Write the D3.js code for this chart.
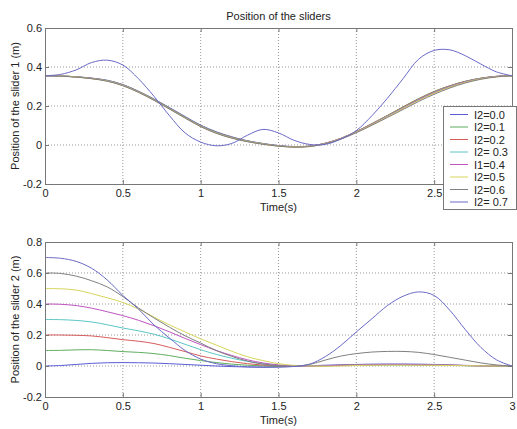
<!DOCTYPE html>
<html>
<head>
<meta charset="utf-8">
<script src="https://cdn.jsdelivr.net/npm/d3@7"></script>
<style>
  body { margin: 0; background: #fff; }
  text { font-family: "Liberation Sans", Arial, sans-serif; }
</style>
</head>
<body>
<div id="my_dataviz"></div>
<script>
// time samples (s)
var times = [0,0.1,0.2,0.3,0.4,0.5,0.6,0.7,0.8,0.9,1.0,1.1,1.2,1.3,1.4,1.5,1.6,1.7,1.8,1.9,2.0,2.1,2.2,2.3,2.4,2.5,2.6,2.7,2.8,2.9,3.0];

var seriesNames = ["I2=0.0","I2=0.1","I2=0.2","I2= 0.3","I1=0.4","I2=0.5","I2=0.6","I2= 0.7"];
var seriesColors = ["#5c5cd6","#5fae5f","#d65c5c","#5cc6c6","#bf55bf","#d6d65c","#808080","#6a6ac8"];

// slider 1 position (m)
var s1_00 = [0.355,0.354,0.350,0.343,0.332,0.310,0.276,0.236,0.192,0.146,0.102,0.068,0.042,0.022,0.008,-0.003,-0.008,-0.006,0.008,0.033,0.068,0.108,0.150,0.193,0.235,0.272,0.302,0.326,0.342,0.352,0.355];
var s1_01 = [0.355,0.354,0.350,0.342,0.331,0.309,0.275,0.235,0.190,0.144,0.100,0.066,0.040,0.021,0.007,-0.004,-0.009,-0.006,0.009,0.034,0.069,0.110,0.152,0.196,0.238,0.275,0.304,0.327,0.343,0.352,0.355];
var s1_02 = [0.355,0.354,0.349,0.342,0.330,0.308,0.274,0.233,0.188,0.142,0.098,0.064,0.039,0.020,0.006,-0.004,-0.009,-0.006,0.009,0.034,0.069,0.109,0.151,0.194,0.236,0.273,0.303,0.326,0.342,0.352,0.355];
var s1_03 = [0.355,0.354,0.349,0.341,0.330,0.307,0.273,0.232,0.187,0.141,0.097,0.063,0.038,0.019,0.006,-0.005,-0.009,-0.007,0.008,0.032,0.067,0.107,0.149,0.191,0.233,0.270,0.300,0.324,0.341,0.351,0.355];
var s1_04 = [0.355,0.354,0.349,0.341,0.329,0.306,0.272,0.231,0.186,0.140,0.096,0.062,0.037,0.018,0.005,-0.005,-0.010,-0.007,0.008,0.032,0.066,0.106,0.147,0.189,0.231,0.268,0.298,0.323,0.340,0.351,0.355];
var s1_05 = [0.355,0.354,0.349,0.340,0.328,0.305,0.271,0.230,0.185,0.139,0.095,0.061,0.036,0.018,0.005,-0.006,-0.010,-0.008,0.007,0.031,0.065,0.104,0.145,0.187,0.228,0.265,0.296,0.321,0.339,0.350,0.355];
var s1_06 = [0.355,0.353,0.348,0.340,0.327,0.304,0.270,0.229,0.184,0.138,0.094,0.060,0.035,0.017,0.004,-0.006,-0.011,-0.008,0.006,0.030,0.063,0.101,0.141,0.182,0.223,0.260,0.292,0.318,0.337,0.349,0.355];
var s1_07 = [0.355,0.362,0.385,0.423,0.435,0.410,0.340,0.250,0.150,0.062,0.015,-0.004,0.008,0.050,0.080,0.062,0.024,0.003,0.003,0.030,0.074,0.150,0.240,0.340,0.440,0.485,0.488,0.458,0.415,0.375,0.355];

// slider 2 position (m)
var s2_00 = [0.000,0.003,0.010,0.017,0.021,0.022,0.021,0.019,0.015,0.010,0.005,0.000,-0.004,-0.006,-0.006,-0.004,-0.001,0.002,0.005,0.008,0.010,0.012,0.013,0.013,0.012,0.010,0.007,0.004,0.002,0.001,0.000];
var s2_01 = [0.100,0.101,0.104,0.105,0.100,0.093,0.088,0.080,0.067,0.050,0.035,0.022,0.012,0.005,0.001,-0.002,-0.003,-0.001,0.002,0.004,0.006,0.007,0.008,0.008,0.007,0.006,0.004,0.003,0.001,0.000,0.000];
var s2_02 = [0.200,0.200,0.198,0.194,0.183,0.170,0.160,0.145,0.120,0.093,0.065,0.045,0.028,0.015,0.006,0.001,-0.002,-0.001,0.002,0.005,0.007,0.009,0.010,0.010,0.009,0.007,0.005,0.003,0.001,0.000,0.000];
var s2_03 = [0.300,0.299,0.294,0.284,0.266,0.245,0.227,0.205,0.175,0.140,0.105,0.075,0.050,0.030,0.014,0.004,-0.001,0.000,0.002,0.004,0.006,0.007,0.008,0.008,0.007,0.006,0.004,0.002,0.001,0.000,0.000];
var s2_04 = [0.400,0.398,0.390,0.373,0.350,0.325,0.295,0.260,0.220,0.178,0.138,0.100,0.068,0.040,0.020,0.007,0.000,-0.001,0.001,0.004,0.006,0.008,0.009,0.009,0.008,0.006,0.005,0.003,0.001,0.000,0.000];
var s2_05 = [0.500,0.498,0.490,0.467,0.440,0.410,0.368,0.316,0.265,0.220,0.175,0.135,0.095,0.060,0.035,0.015,0.004,0.000,-0.002,0.000,0.003,0.005,0.006,0.006,0.005,0.004,0.003,0.002,0.001,0.000,0.000];
var s2_06 = [0.600,0.597,0.580,0.550,0.510,0.448,0.375,0.310,0.250,0.195,0.148,0.100,0.062,0.032,0.012,0.002,-0.002,0.010,0.038,0.064,0.080,0.090,0.094,0.094,0.088,0.074,0.056,0.038,0.020,0.007,0.000];
var s2_07 = [0.700,0.695,0.675,0.630,0.555,0.455,0.368,0.265,0.180,0.100,0.045,0.015,0.002,-0.006,-0.009,-0.008,-0.003,0.012,0.060,0.132,0.220,0.305,0.390,0.450,0.478,0.455,0.360,0.235,0.120,0.040,0.000];

var slider1 = [s1_00,s1_01,s1_02,s1_03,s1_04,s1_05,s1_06,s1_07];
var slider2 = [s2_00,s2_01,s2_02,s2_03,s2_04,s2_05,s2_06,s2_07];

var xTicks = [0,0.5,1,1.5,2,2.5,3];
var xTickLabels = ["0","0.5","1","1.5","2","2.5","3"];
var yTicks1 = [-0.2,0,0.2,0.4,0.6];
var yTickLabels1 = ["-0.2","0","0.2","0.4","0.6"];
var yTicks2 = [-0.2,0,0.2,0.4,0.6,0.8];
var yTickLabels2 = ["-0.2","0","0.2","0.4","0.6","0.8"];

var W = 517, H = 429;
var left = 45, right = 512;

var svg = d3.select("#my_dataviz")
  .append("svg")
  .attr("width", W)
  .attr("height", H);

svg.append("rect").attr("width", W).attr("height", H).attr("fill", "#fff");

function drawPanel(top, bottom, yDomain, yTicks, yLabels, data, ylabel) {
  var x = d3.scaleLinear().domain([0, 3]).range([left, right]);
  var y = d3.scaleLinear().domain(yDomain).range([bottom, top]);

  var g = svg.append("g");

  // grid
  g.append("g")
    .selectAll("line.gx")
    .data(xTicks.slice(1, -1))
    .enter().append("line")
    .attr("x1", function(d) { return x(d); })
    .attr("x2", function(d) { return x(d); })
    .attr("y1", top).attr("y2", bottom)
    .attr("stroke", "#999").attr("stroke-dasharray", "1,2");
  g.append("g")
    .selectAll("line.gy")
    .data(yTicks.slice(1, -1))
    .enter().append("line")
    .attr("x1", left).attr("x2", right)
    .attr("y1", function(d) { return y(d); })
    .attr("y2", function(d) { return y(d); })
    .attr("stroke", "#999").attr("stroke-dasharray", "1,2");

  // curves
  var line = d3.line()
    .x(function(d, i) { return x(times[i]); })
    .y(function(d) { return y(d); })
    .curve(d3.curveCatmullRom.alpha(0.5));

  g.selectAll("path.series")
    .data(data)
    .enter().append("path")
    .attr("d", line)
    .attr("fill", "none")
    .attr("stroke", function(d, i) { return seriesColors[i]; })
    .attr("stroke-width", 1);

  // axes with inward ticks
  g.append("g")
    .attr("transform", "translate(0," + bottom + ")")
    .call(d3.axisBottom(x).tickValues(xTicks).tickSize(-4).tickPadding(5)
      .tickFormat(function(d, i) { return xTickLabels[i]; }));
  g.append("g")
    .attr("transform", "translate(0," + top + ")")
    .call(d3.axisTop(x).tickValues(xTicks).tickSize(-4).tickFormat(""));
  g.append("g")
    .attr("transform", "translate(" + left + ",0)")
    .call(d3.axisLeft(y).tickValues(yTicks).tickSize(-4).tickPadding(3)
      .tickFormat(function(d, i) { return yLabels[i]; }));
  g.append("g")
    .attr("transform", "translate(" + right + ",0)")
    .call(d3.axisRight(y).tickValues(yTicks).tickSize(-4).tickFormat(""));

  g.selectAll(".domain").attr("stroke", "#777");
  g.selectAll(".tick line").attr("stroke", "#777");
  g.selectAll(".tick text")
    .style("font-size", "11px")
    .attr("fill", "#222");

  g.append("text")
    .attr("x", (left + right) / 2)
    .attr("y", bottom + 27)
    .attr("text-anchor", "middle")
    .style("font-size", "11px")
    .attr("fill", "#222")
    .text("Time(s)");

  g.append("text")
    .attr("transform", "translate(19," + ((top + bottom) / 2) + ") rotate(-90)")
    .attr("text-anchor", "middle")
    .style("font-size", "11px")
    .attr("fill", "#222")
    .text(ylabel);

  return g;
}

drawPanel(28, 184, [-0.2, 0.6], yTicks1, yTickLabels1, slider1, "Position of the slider 1 (m)");
drawPanel(242, 397, [-0.2, 0.8], yTicks2, yTickLabels2, slider2, "Position of the slider 2 (m)");

svg.append("text")
  .attr("x", (left + right) / 2)
  .attr("y", 20)
  .attr("text-anchor", "middle")
  .style("font-size", "11px")
  .attr("fill", "#222")
  .text("Position of the sliders");

// legend
var lg = svg.append("g");
lg.append("rect")
  .attr("x", 443.5).attr("y", 106.5)
  .attr("width", 73).attr("height", 103)
  .attr("fill", "#fff").attr("stroke", "#777");
var items = lg.selectAll("g.item")
  .data(seriesNames)
  .enter().append("g")
  .attr("transform", function(d, i) { return "translate(0," + (114.5 + i * 12.5) + ")"; });
items.append("line")
  .attr("x1", 450).attr("x2", 468)
  .attr("stroke", function(d, i) { return seriesColors[i]; });
items.append("text")
  .attr("x", 474).attr("y", 4)
  .style("font-size", "11px")
  .attr("fill", "#222")
  .text(function(d) { return d; });
</script>
</body>
</html>
